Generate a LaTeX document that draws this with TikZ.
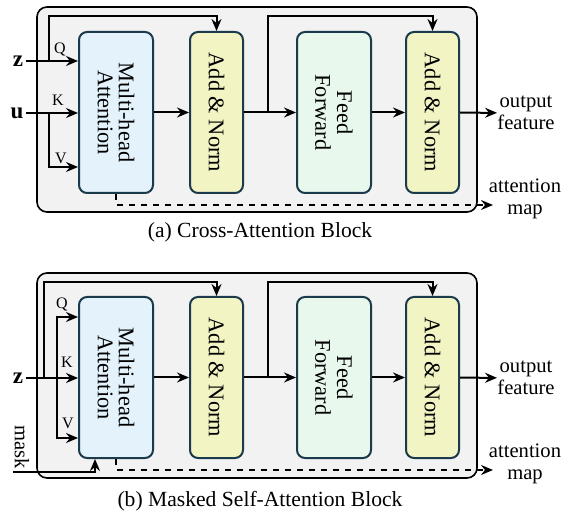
\documentclass[tikz,border=0pt]{standalone}
\usepackage{fontspec}
\setmainfont{Liberation Serif}
\usepackage{xcolor}
\usepackage{tikz}
\usetikzlibrary{arrows.meta}

\definecolor{boxline}{HTML}{1B3A4B}
\definecolor{mhafill}{HTML}{E3F2FB}
\definecolor{normfill}{HTML}{F2F4C4}
\definecolor{fffill}{HTML}{E8F8EC}
\definecolor{blockfill}{HTML}{F2F2F2}

\tikzset{
    blockbg/.style={draw=black, fill=blockfill, line width=0.8pt, rounded corners=5pt},
    unit/.style={draw=boxline, line width=1pt, rounded corners=4pt, inner sep=0pt,
        minimum height=80.5pt, font=\fontsize{11.2}{12.5}\selectfont},
    mhabox/.style={unit, fill=mhafill, minimum width=37pt},
    normbox/.style={unit, fill=normfill, minimum width=26.5pt},
    ffbox/.style={unit, fill=fffill, minimum width=37pt},
    qkv/.style={font=\fontsize{8}{9}\selectfont, inner sep=0pt},
    sidetext/.style={align=center, font=\fontsize{10.3}{11}\selectfont, inner sep=0pt},
    flow/.style={-{Stealth[length=6pt, width=5pt, inset=2pt]}, line width=1pt},
}

\begin{document}
\begin{tikzpicture}[x=0.5pt, y=-0.5pt]
        \useasboundingbox (0,0) rectangle (561,512);

        % (a) cross-attention block
        \draw[blockbg] (37,7) rectangle (477,212);
        \node[mhabox] at (116,112.5) (mhaA) {\rotatebox{-90}{\shortstack{Multi-head\\Attention}}};
        \node[normbox] at (216.5,112.5) (an1A) {\rotatebox{-90}{Add \& Norm}};
        \node[ffbox] at (334,112.5) (ffA) {\rotatebox{-90}{\shortstack{Feed\\Forward}}};
        \node[normbox] at (432.5,112.5) (an2A) {\rotatebox{-90}{Add \& Norm}};

        \node[font=\fontsize{11.5}{12}\selectfont, inner sep=1pt] at (18,61) (zA) {$\mathbf{z}$};
        \node[font=\fontsize{11.5}{12}\selectfont, inner sep=1pt] at (17,113) (uA) {$\mathbf{u}$};
        \node[qkv] at (60,50) (qA) {Q};
        \node[qkv] at (58,100) (kA) {K};
        \node[qkv] at (61,158) (vA) {V};
        \node[sidetext] at (526,113) (outA) {output\\feature};
        \node[sidetext] at (525,199) (mapA) {attention\\map};
        \coordinate (skA) at (49,61);
        \coordinate (splA) at (49,113);
        \coordinate (sk2A) at (268,112.5);
        \coordinate (attA) at (493,205);

        \draw[flow] (zA) -- (mhaA.west |- zA);
        \draw[flow] (uA) -- (mhaA.west |- uA);
        \draw[flow] (splA) |- (mhaA.west |- 0,167);
        \draw[flow] (skA) -- (skA |- 0,16) -| (an1A.north);
        \draw[flow] (mhaA) -- (an1A);
        \draw[flow] (an1A) -- (ffA);
        \draw[flow] (sk2A) -- (sk2A |- 0,16) -| (an2A.north);
        \draw[flow] (ffA) -- (an2A);
        \draw[flow] (an2A) -- (outA);
        \draw[flow, dashed] (mhaA.south) |- (attA);

        \node[font=\fontsize{10.8}{12}\selectfont] at (260,232) (capA) {(a) Cross-Attention Block};

        % (b) masked self-attention block
        \draw[blockbg] (37,273) rectangle (477,478);
        \node[mhabox] at (116,377.5) (mhaB) {\rotatebox{-90}{\shortstack{Multi-head\\Attention}}};
        \node[normbox] at (216.5,377.5) (an1B) {\rotatebox{-90}{Add \& Norm}};
        \node[ffbox] at (334,377.5) (ffB) {\rotatebox{-90}{\shortstack{Feed\\Forward}}};
        \node[normbox] at (432.5,377.5) (an2B) {\rotatebox{-90}{Add \& Norm}};

        \node[font=\fontsize{11.5}{12}\selectfont, inner sep=1pt] at (18,378) (zB) {$\mathbf{z}$};
        \node[qkv] at (62,305) (qB) {Q};
        \node[qkv] at (67,362) (kB) {K};
        \node[qkv] at (68,423) (vB) {V};
        \node[sidetext, rotate=-90] at (22,447) (maskB) {mask};
        \node[sidetext] at (526,378) (outB) {output\\feature};
        \node[sidetext] at (525,464) (mapB) {attention\\map};
        \coordinate (skB) at (44,378);
        \coordinate (splB) at (57,378);
        \coordinate (sk2B) at (268,377.5);
        \coordinate (mskB) at (13,472);
        \coordinate (attB) at (493,470);

        \draw[flow] (zB) -- (mhaB.west |- zB);
        \draw[flow] (splB) |- (mhaB.west |- 0,317);
        \draw[flow] (splB) |- (mhaB.west |- 0,438);
        \draw[flow] (skB) -- (skB |- 0,282) -| (an1B.north);
        \draw[flow] (mskB) -| (mhaB.south -| 95,0);
        \draw[flow] (mhaB) -- (an1B);
        \draw[flow] (an1B) -- (ffB);
        \draw[flow] (sk2B) -- (sk2B |- 0,282) -| (an2B.north);
        \draw[flow] (ffB) -- (an2B);
        \draw[flow] (an2B) -- (outB);
        \draw[flow, dashed] (mhaB.south) |- (attB);

        \node[font=\fontsize{10.8}{12}\selectfont] at (260,501) (capB) {(b) Masked Self-Attention Block};
    \end{tikzpicture}
\end{document}
